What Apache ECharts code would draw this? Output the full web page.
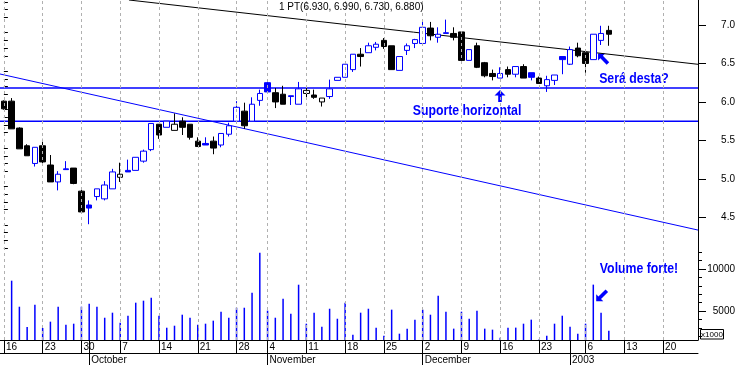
<!DOCTYPE html>
<html><head><meta charset="utf-8">
<script src="https://cdn.jsdelivr.net/npm/echarts@6/dist/echarts.min.js"></script>
<style>html,body{margin:0;padding:0;background:#fff}#c{width:738px;height:365px}</style>
</head><body><div id="c"></div>
<script>
// ---------- DATA ----------
const dates = [
 '2002-09-16','2002-09-17','2002-09-18','2002-09-19','2002-09-20','2002-09-23','2002-09-24','2002-09-25','2002-09-26','2002-09-27','2002-09-30',
 '2002-10-01','2002-10-02','2002-10-03','2002-10-04','2002-10-07','2002-10-08','2002-10-09','2002-10-10','2002-10-11','2002-10-14','2002-10-15','2002-10-16','2002-10-17','2002-10-18','2002-10-21','2002-10-22','2002-10-23','2002-10-24','2002-10-25','2002-10-28','2002-10-29','2002-10-30','2002-10-31',
 '2002-11-04','2002-11-05','2002-11-06','2002-11-07','2002-11-08','2002-11-11','2002-11-12','2002-11-13','2002-11-14','2002-11-15','2002-11-18','2002-11-19','2002-11-20','2002-11-21','2002-11-22','2002-11-25','2002-11-26','2002-11-27','2002-11-28','2002-11-29',
 '2002-12-02','2002-12-03','2002-12-04','2002-12-05','2002-12-06','2002-12-09','2002-12-10','2002-12-11','2002-12-12','2002-12-13','2002-12-16','2002-12-17','2002-12-18','2002-12-19','2002-12-20','2002-12-23','2002-12-24','2002-12-27','2002-12-31',
 '2003-01-02','2003-01-03','2003-01-06','2003-01-07','2003-01-08','2003-01-09','2003-01-10','2003-01-13','2003-01-14','2003-01-15','2003-01-16','2003-01-17','2003-01-20','2003-01-21','2003-01-22','2003-01-23','2003-01-24'
];
const opens  = [6.01,6.01,5.66,5.43,5.20,5.43,5.18,4.96,5.13,5.14,4.84,4.66,4.77,4.74,4.87,5.02,5.11,5.11,5.23,5.38,5.71,5.67,5.63,5.75,5.71,5.49,5.46,5.49,5.44,5.58,5.75,5.88,5.75,6.02,6.25,6.12,6.10,6.08,5.97,6.11,6.09,6.00,6.07,6.28,6.32,6.42,6.62,6.64,6.71,6.80,6.73,6.41,6.67,6.76,6.76,6.96,6.84,6.89,6.89,6.91,6.54,6.73,6.51,6.37,6.31,6.42,6.36,6.46,6.38,6.31,6.21,6.28,6.59,6.49,6.70,6.64,6.55,6.80,6.93];
const highs  = [6.02,6.05,5.67,5.45,5.41,5.52,5.31,5.10,5.23,5.14,4.87,4.72,4.87,4.97,5.13,5.21,5.25,5.28,5.38,5.72,5.71,5.75,5.85,5.80,5.71,5.54,5.54,5.55,5.59,5.73,6.01,5.99,6.06,6.16,6.26,6.18,6.21,6.08,6.26,6.21,6.16,6.05,6.29,6.32,6.49,6.62,6.70,6.77,6.78,6.83,6.73,6.59,6.76,6.82,7.04,7.04,6.97,7.07,6.97,6.91,6.68,6.77,6.52,6.42,6.45,6.46,6.46,6.49,6.38,6.33,6.34,6.35,6.59,6.72,6.77,6.64,6.88,6.99,6.99];
const lows   = [5.90,5.65,5.39,5.30,5.16,5.19,4.96,4.85,5.12,4.93,4.57,4.41,4.72,4.72,4.87,4.96,5.09,5.11,5.21,5.36,5.52,5.67,5.63,5.57,5.51,5.42,5.44,5.32,5.41,5.55,5.75,5.65,5.75,5.95,6.12,5.92,5.97,5.96,5.97,6.06,6.04,5.94,6.04,6.28,6.32,6.39,6.46,6.64,6.67,6.69,6.42,6.41,6.61,6.70,6.76,6.80,6.77,6.89,6.80,6.50,6.54,6.44,6.32,6.28,6.31,6.32,6.32,6.31,6.28,6.24,6.13,6.22,6.36,6.48,6.58,6.38,6.55,6.74,6.73];
const closes = [5.91,5.65,5.39,5.30,5.41,5.22,4.96,5.06,5.12,4.94,4.57,4.62,4.87,4.92,5.09,5.06,5.09,5.28,5.36,5.72,5.57,5.75,5.71,5.67,5.54,5.42,5.44,5.40,5.59,5.69,5.93,5.69,5.97,6.11,6.13,6.00,5.97,6.07,6.17,6.15,6.06,6.05,6.17,6.32,6.49,6.62,6.59,6.73,6.75,6.72,6.42,6.59,6.73,6.81,6.97,6.86,6.88,6.90,6.84,6.54,6.68,6.45,6.34,6.33,6.37,6.36,6.46,6.31,6.32,6.24,6.29,6.35,6.55,6.68,6.60,6.50,6.88,6.89,6.88];
const volumes = [1400,8610,5510,3100,5750,2980,3730,5510,3370,3490,5510,5870,5510,4200,4800,3610,4440,5990,6230,6580,4440,3010,3250,4560,4200,3370,3490,3850,4920,4200,5390,5390,7180,11940,5040,4200,6460,4680,8130,3490,4800,3130,5270,4080,5990,2180,4800,5270,3020,2060,5160,2300,2900,3970,5160,4560,6830,4920,2900,4920,4090,5040,2900,2780,1830,3020,3020,3490,3970,1600,2060,3490,4440,3140,2300,3490,8140,4800,2660];
const priceMajorTicks = [4.5,5.0,5.5,6.0,6.5,7.0];
const priceMinorTicks = [4.1,4.2,4.3,4.4,4.6,4.7,4.8,4.9,5.1,5.2,5.3,5.4,5.6,5.7,5.8,5.9,6.1,6.2,6.3,6.4,6.6,6.7,6.8,6.9,7.1,7.2,7.3];
const volumeMajorTicks = [5000,10000];
const volumeMinorTicks = [2000,3000,4000,6000,7000,8000,9000,11000,12000];
const supportLevels = [6.18, 5.75];
const resistanceLine = [[16.13, 7.325],[89.5, 6.489]];
const downTrendLine = [[-0.5, 6.363],[89.5, 4.334]];
const monthNames = ['January','February','March','April','May','June','July','August','September','October','November','December'];
const ticker = '1 PT';

// ---------- STYLE ----------
const BLUE = '#0000ff';
const BLACK = '#000000';
const FONT = "'Liberation Sans', Arial, sans-serif";
const GRID_RIGHT = 698;

const dayOfWeek = dates.map(d => new Date(d + 'T00:00:00Z').getUTCDay());
const isMonday = dayOfWeek.map(w => w === 1);
const isMonthStart = dates.map((d, i) => i > 0 && d.slice(5, 7) !== dates[i - 1].slice(5, 7));
const mondayIdx = isMonday.map((m, i) => m ? i : -1).filter(i => i >= 0);

// blue = close not below previous close, black otherwise (MetaStock-style colouring)
const isBlue = closes.map((c, i) => i > 0 && c >= closes[i - 1]);
const EMPTY = ['-', '-', '-', '-'];
const blueCandles = opens.map((o, i) => isBlue[i] ? [o, closes[i], lows[i], highs[i]] : EMPTY);
const blackCandles = opens.map((o, i) => !isBlue[i] ? [o, closes[i], lows[i], highs[i]] : EMPTY);

const last = opens.length - 1;
const titleText = `${ticker}(${opens[last].toFixed(3)}, ${highs[last].toFixed(3)}, ${lows[last].toFixed(3)}, ${closes[last].toFixed(3)})`;

const gridMarkLine = {
  silent: true, symbol: ['none', 'none'], label: { show: false }, animation: false,
  lineStyle: { type: [3, 3], color: '#b0b0b0', width: 1 },
  data: mondayIdx.map(i => ({ xAxis: i }))
};

function arrow(cx, cy, angDeg, len, headW) {
  const a = angDeg * Math.PI / 180, h = len / 2;
  const pts = [[0, -h], [-headW / 2, -h + headW / 2], [-1.8, -h + headW / 2], [-1.8, h], [1.8, h], [1.8, -h + headW / 2], [headW / 2, -h + headW / 2]];
  return pts.map(([x, y]) => [cx + x * Math.cos(a) + y * Math.sin(a), cy - x * Math.sin(a) + y * Math.cos(a)]);
}
function note(text, x, y) {
  return { type: 'text', x, y, scaleX: 0.82, style: { text, fill: BLUE, font: `bold 15px ${FONT}`, align: 'center', verticalAlign: 'middle' } };
}
function candleSeries(data, col) {
  return { type: 'candlestick', xAxisIndex: 0, yAxisIndex: 0, data, barWidth: 6, z: 3,
    itemStyle: { color: '#ffffff', color0: col, borderColor: col, borderColor0: col, borderColorDoji: col, borderWidth: 1 } };
}

const priceMin = 4.075, priceMax = 7.325, volMin = 1548, volMax = 12262;

const chart = echarts.init(document.getElementById('c'), null, { renderer: 'canvas' });
chart.setOption({
  animation: false,
  backgroundColor: '#fff',
  title: { text: titleText, left: 279, top: 2, padding: 0, textStyle: { fontSize: 10, fontWeight: 'normal', color: '#000', fontFamily: FONT } },
  grid: [
    { left: 0, top: 0, width: GRID_RIGHT, height: 250, outerBoundsMode: 'none' },
    { left: 0, top: 250, width: GRID_RIGHT, height: 90, outerBoundsMode: 'none' }
  ],
  xAxis: [
    { gridIndex: 0, type: 'category', data: dates, position: 'bottom', boundaryGap: true, axisLine: { show: false }, axisTick: { show: false }, axisLabel: { show: false }, splitLine: { show: false } },
    { gridIndex: 0, type: 'value', min: -0.5, max: 89.5, position: 'top', show: false },
    { gridIndex: 1, type: 'category', data: dates, position: 'bottom', boundaryGap: true,
      axisLine: { show: true, onZero: false, lineStyle: { color: '#000', width: 1 } },
      axisTick: { show: true, alignWithLabel: true, length: 13, interval: (i) => isMonday[i] || isMonthStart[i], lineStyle: { color: '#000' } },
      axisLabel: { interval: (i) => isMonday[i], formatter: (v) => String(+v.slice(8)), align: 'left', margin: 2, padding: [0, 0, 0, 2], fontSize: 10, color: '#000', fontFamily: FONT },
      splitLine: { show: false } },
    { gridIndex: 1, type: 'category', data: dates, position: 'bottom', offset: 13, boundaryGap: true,
      axisLine: { show: true, onZero: false, lineStyle: { color: '#000', width: 1 } },
      axisTick: { show: true, alignWithLabel: true, length: 12, interval: (i) => isMonthStart[i], lineStyle: { color: '#000' } },
      axisLabel: { interval: (i) => isMonthStart[i], formatter: (v) => { const m = +v.slice(5, 7); return m === 1 ? v.slice(0, 4) : monthNames[m - 1]; }, align: 'left', margin: 2, padding: [0, 0, 0, 2], fontSize: 10, color: '#000', fontFamily: FONT },
      splitLine: { show: false } }
  ],
  yAxis: [
    { gridIndex: 0, type: 'value', position: 'right', min: priceMin, max: priceMax,
      axisLine: { show: true, onZero: false, lineStyle: { color: '#000' } },
      axisTick: { show: true, length: 8, customValues: priceMajorTicks, lineStyle: { color: '#000' } },
      axisLabel: { customValues: priceMajorTicks, formatter: (v) => v.toFixed(1), align: 'right', margin: 37, fontSize: 10, color: '#000', fontFamily: FONT },
      splitLine: { show: false } },
    { gridIndex: 0, type: 'value', position: 'right', min: priceMin, max: priceMax,
      axisLine: { show: false }, axisTick: { show: true, length: 4, customValues: priceMinorTicks, lineStyle: { color: '#000' } },
      axisLabel: { show: false }, splitLine: { show: false } },
    { gridIndex: 1, type: 'value', position: 'right', min: volMin, max: volMax,
      axisLine: { show: true, onZero: false, lineStyle: { color: '#000' } },
      axisTick: { show: true, length: 8, customValues: volumeMajorTicks, lineStyle: { color: '#000' } },
      axisLabel: { customValues: volumeMajorTicks, formatter: (v) => String(v), align: 'right', margin: 37, fontSize: 10, color: '#000', fontFamily: FONT },
      splitLine: { show: false } },
    { gridIndex: 1, type: 'value', position: 'right', min: volMin, max: volMax,
      axisLine: { show: false }, axisTick: { show: true, length: 4, customValues: volumeMinorTicks, lineStyle: { color: '#000' } },
      axisLabel: { show: false }, splitLine: { show: false } }
  ],
  series: [
    { type: 'line', xAxisIndex: 0, yAxisIndex: 0, data: [], z: 1, markLine: gridMarkLine },
    { type: 'line', xAxisIndex: 1, yAxisIndex: 0, data: resistanceLine, symbol: 'none', silent: true, z: 2, lineStyle: { color: '#000', width: 1 } },
    { type: 'line', xAxisIndex: 1, yAxisIndex: 0, data: downTrendLine, symbol: 'none', silent: true, z: 2, lineStyle: { color: BLUE, width: 1 } },
    ...supportLevels.map(v => ({ type: 'line', xAxisIndex: 1, yAxisIndex: 0, data: [[-0.5, v], [89.5, v]], symbol: 'none', silent: true, z: 2, lineStyle: { color: BLUE, width: 1.5 } })),
    candleSeries(blueCandles, BLUE),
    candleSeries(blackCandles, BLACK),
    { type: 'line', xAxisIndex: 2, yAxisIndex: 2, data: [], z: 1, markLine: gridMarkLine },
    { type: 'bar', xAxisIndex: 2, yAxisIndex: 2, data: volumes, barWidth: 1.5, z: 3, itemStyle: { color: BLUE } }
  ],
  graphic: [
    note('Suporte horizontal', 467, 111),
    note('Será desta?', 634, 79),
    note('Volume forte!', 639, 269),
    { type: 'polygon', shape: { points: arrow(500, 96, 0, 12, 11) }, style: { fill: BLUE } },
    { type: 'polygon', shape: { points: arrow(603, 58.5, 45, 14, 10) }, style: { fill: BLUE } },
    { type: 'polygon', shape: { points: arrow(601.5, 296, 135, 15, 10) }, style: { fill: BLUE } },
    { type: 'rect', shape: { x: 700.5, y: 329.5, width: 23, height: 9.5 }, style: { fill: '#fff', stroke: '#000', lineWidth: 1 } },
    { type: 'text', x: 712, y: 334.5, style: { text: 'x1000', fill: '#000', font: `8px ${FONT}`, align: 'center', verticalAlign: 'middle' } }
  ]
});
</script></body></html>
